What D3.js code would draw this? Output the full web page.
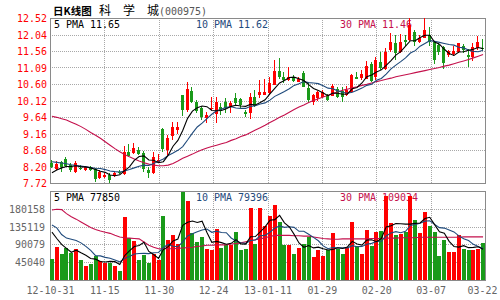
<!DOCTYPE html>
<html>
<head>
<meta charset="utf-8">
<script src="https://cdn.jsdelivr.net/npm/d3@7"></script>
<style>
	body { margin: 0; background: #fff; }
	svg text { font-family: "DejaVu Sans Mono", monospace; font-size: 11px; }
</style>
</head>
<body>
<div id="chart"></div>
<script>
// x axis labels, placed on the 9 vertical grid positions
var xLabels = ["12-10-31", "11-15", "11-30", "12-24", "13-01-11", "01-29", "02-20", "03-07", "03-22"];

var priceTicks = [7.72, 8.20, 8.68, 9.16, 9.64, 10.12, 10.60, 11.08, 11.56, 12.04, 12.52];
var priceTickLabels = ["7.72", "8.20", "8.68", "9.16", "9.64", "10.12", "10.60", "11.09", "11.56", "12.04", "12.52"];
var volTicks = [45040, 90079, 135119, 180158];
var volMax = 225198;

// daily candles
var openP = [8.30, 8.14, 8.33, 8.42, 8.23, 8.04, 8.17, 8.10, 8.18, 8.13,
	7.86, 7.90, 7.96, 7.93, 8.05, 7.98, 8.63, 8.58, 8.68, 8.60,
	8.10, 8.00, 8.33, 9.29, 8.68, 9.09, 9.26, 10.28, 9.84, 10.41,
	10.09, 9.89, 9.60, 9.89, 9.73, 9.94, 10.09, 9.94, 10.18, 10.15,
	9.80, 9.75, 10.23, 10.28, 10.28, 10.33, 10.57, 10.99, 10.79, 10.72,
	10.77, 10.67, 10.91, 10.49, 10.09, 10.18, 10.23, 10.28, 10.26, 10.45,
	10.40, 10.28, 10.36, 10.81, 10.78, 10.76, 11.18, 10.81, 11.23, 11.05,
	11.59, 11.78, 11.54, 11.88, 11.88, 12.10, 11.83, 11.95, 12.03, 11.83,
	11.73, 11.69, 11.44, 11.46, 11.54, 11.71, 11.44, 11.39, 11.64, 11.66];
var highP = [8.38, 8.36, 8.35, 8.49, 8.30, 8.36, 8.24, 8.22, 8.22, 8.15,
	8.10, 8.00, 8.00, 8.03, 8.10, 8.80, 8.85, 8.89, 8.78, 8.66,
	8.19, 8.63, 8.56, 9.31, 9.12, 9.50, 9.50, 10.28, 10.67, 10.50,
	10.14, 9.95, 9.80, 10.23, 10.23, 10.04, 10.18, 10.10, 10.35, 10.18,
	9.85, 10.33, 10.42, 10.72, 10.76, 10.79, 11.30, 11.35, 10.96, 11.10,
	10.85, 10.80, 10.98, 10.62, 10.30, 10.40, 10.42, 10.30, 10.60, 10.50,
	10.50, 10.55, 10.88, 10.95, 11.00, 11.28, 11.25, 11.40, 11.54, 11.64,
	12.07, 12.03, 12.06, 12.04, 12.52, 12.18, 12.02, 12.52, 12.27, 11.85,
	11.80, 11.72, 11.60, 11.70, 11.80, 11.75, 11.62, 11.80, 11.99, 11.90];
var lowP = [8.15, 8.11, 8.03, 8.20, 8.05, 8.01, 8.10, 8.08, 8.08, 7.76,
	7.85, 7.87, 7.73, 7.90, 7.97, 7.95, 8.49, 8.55, 8.53, 8.05,
	7.86, 7.98, 8.30, 8.63, 8.54, 8.98, 9.16, 9.67, 9.80, 10.04,
	9.75, 9.55, 9.46, 9.84, 9.46, 9.70, 9.77, 9.75, 10.00, 9.90,
	9.63, 9.58, 9.93, 10.18, 10.28, 10.28, 10.57, 10.75, 10.62, 10.68,
	10.65, 10.66, 10.50, 10.04, 9.99, 10.12, 10.20, 10.10, 10.24, 10.20,
	10.07, 10.25, 10.33, 10.74, 10.72, 10.74, 10.66, 10.72, 11.02, 11.00,
	11.53, 11.30, 11.50, 11.72, 11.85, 11.70, 11.78, 11.93, 11.72, 11.18,
	11.45, 11.05, 11.38, 11.42, 11.50, 11.50, 11.10, 11.26, 11.59, 11.57];
var closeP = [8.20, 8.28, 8.19, 8.22, 8.10, 8.29, 8.13, 8.19, 8.10, 7.83,
	8.05, 7.96, 7.81, 8.00, 8.00, 8.63, 8.51, 8.75, 8.56, 8.12,
	8.00, 8.49, 8.40, 8.70, 9.04, 9.34, 9.34, 9.84, 10.45, 10.09,
	9.81, 9.63, 9.70, 9.91, 10.07, 9.82, 9.89, 10.06, 10.06, 9.99,
	9.73, 10.23, 9.96, 10.38, 10.38, 10.62, 10.99, 10.79, 10.72, 10.81,
	10.70, 10.74, 10.52, 10.13, 10.28, 10.38, 10.38, 10.13, 10.55, 10.23,
	10.23, 10.42, 10.86, 10.76, 10.88, 11.13, 10.69, 11.30, 11.07, 11.52,
	11.81, 11.49, 11.83, 11.83, 12.32, 11.83, 11.95, 12.17, 11.83, 11.30,
	11.54, 11.20, 11.56, 11.56, 11.78, 11.60, 11.40, 11.69, 11.81, 11.63];

// price moving averages as drawn on the chart
var ma5 = [8.02, 8.10, 8.16, 8.20, 8.20, 8.22, 8.19, 8.19, 8.16, 8.11,
	8.06, 8.03, 7.95, 7.93, 7.96, 8.08, 8.19, 8.38, 8.49, 8.51,
	8.39, 8.38, 8.31, 8.34, 8.53, 8.79, 8.96, 9.25, 9.60, 9.81,
	9.91, 9.96, 9.94, 9.83, 9.82, 9.83, 9.88, 9.95, 9.98, 9.96,
	9.95, 10.01, 9.99, 10.06, 10.14, 10.31, 10.47, 10.63, 10.70, 10.79,
	10.80, 10.75, 10.70, 10.58, 10.47, 10.41, 10.34, 10.26, 10.34, 10.33,
	10.30, 10.31, 10.46, 10.50, 10.63, 10.81, 10.86, 10.95, 11.01, 11.14,
	11.28, 11.44, 11.54, 11.70, 11.86, 11.86, 11.95, 12.02, 12.02, 11.82,
	11.76, 11.61, 11.49, 11.43, 11.53, 11.54, 11.58, 11.61, 11.66, 11.63];
var ma10 = [8.34, 8.32, 8.30, 8.28, 8.25, 8.23, 8.21, 8.19, 8.17, 8.15,
	8.14, 8.11, 8.07, 8.05, 8.04, 8.07, 8.11, 8.16, 8.21, 8.24,
	8.23, 8.29, 8.35, 8.42, 8.52, 8.59, 8.67, 8.78, 8.97, 9.17,
	9.35, 9.46, 9.59, 9.72, 9.82, 9.87, 9.92, 9.94, 9.90, 9.89,
	9.89, 9.95, 9.97, 10.02, 10.05, 10.13, 10.24, 10.31, 10.38, 10.46,
	10.56, 10.61, 10.67, 10.64, 10.63, 10.61, 10.55, 10.48, 10.46, 10.40,
	10.36, 10.33, 10.36, 10.42, 10.48, 10.56, 10.59, 10.71, 10.76, 10.89,
	11.04, 11.15, 11.25, 11.36, 11.50, 11.57, 11.70, 11.78, 11.86, 11.84,
	11.81, 11.78, 11.75, 11.73, 11.67, 11.65, 11.59, 11.55, 11.54, 11.58];
var ma30 = [9.66, 9.63, 9.59, 9.55, 9.49, 9.43, 9.36, 9.28, 9.19, 9.11,
	9.02, 8.92, 8.82, 8.72, 8.63, 8.55, 8.48, 8.42, 8.36, 8.31,
	8.27, 8.24, 8.22, 8.22, 8.24, 8.29, 8.36, 8.44, 8.50, 8.56,
	8.63, 8.69, 8.74, 8.78, 8.82, 8.86, 8.90, 8.96, 9.01, 9.07,
	9.12, 9.19, 9.26, 9.33, 9.40, 9.48, 9.55, 9.63, 9.70, 9.78,
	9.86, 9.93, 9.99, 10.06, 10.12, 10.17, 10.22, 10.27, 10.32, 10.37,
	10.42, 10.45, 10.49, 10.52, 10.56, 10.59, 10.63, 10.67, 10.70, 10.74,
	10.77, 10.81, 10.84, 10.87, 10.90, 10.93, 10.96, 10.99, 11.02, 11.05,
	11.08, 11.12, 11.15, 11.19, 11.23, 11.27, 11.31, 11.36, 11.41, 11.46];

// daily volume
var volume = [52500, 83000, 66700, 80900, 68000, 77600, 50000, 35900, 40000, 60000,
	47500, 44000, 44000, 35900, 22500, 160000, 106000, 97600, 50000, 64000,
	43000, 66700, 50000, 161000, 101000, 115000, 92000, 222000, 200000, 118000,
	96000, 108000, 77600, 77000, 129000, 81000, 87600, 89000, 122600, 75000,
	79000, 181000, 92000, 183000, 137600, 161000, 190000, 146000, 87600, 87600,
	65000, 81000, 92000, 110000, 58000, 75000, 61000, 75000, 118000, 79000,
	65000, 81000, 146000, 85000, 65000, 127600, 85000, 121000, 125000, 213000,
	143000, 112600, 117000, 121000, 213000, 152600, 118000, 172600, 136000, 121000,
	61000, 100000, 71000, 71000, 112600, 79000, 75000, 75000, 79000, 93000];

// volume moving averages as drawn on the chart
var vma5 = [121000, 105000, 90000, 80000, 70200, 75400, 68800, 62600, 54400, 52800,
	46800, 45600, 47200, 46400, 39000, 61400, 73800, 84600, 87400, 95600,
	72200, 64400, 54800, 77000, 84400, 98800, 103800, 138200, 146000, 149400,
	145600, 148800, 120000, 95400, 97600, 94600, 90600, 92800, 102000, 91200,
	90800, 109400, 110000, 122000, 134600, 151000, 152800, 163600, 144600, 134600,
	115400, 93600, 82800, 87200, 81200, 83200, 79200, 75800, 77400, 81600,
	79600, 83600, 97800, 91200, 88400, 101000, 101800, 96800, 104800, 134400,
	137400, 143000, 142200, 141400, 141400, 143400, 144400, 155600, 158600, 140200,
	121800, 118200, 97800, 84800, 83200, 86800, 81800, 82600, 84200, 77850];
var vma10 = [139000, 132000, 115000, 106000, 103000, 100000, 94000, 85000, 75000, 61500,
	61100, 57200, 54900, 50400, 45900, 54100, 59700, 65900, 66900, 67300,
	66800, 69100, 69700, 82200, 90000, 85500, 84100, 96500, 111500, 116900,
	122200, 126300, 129100, 120700, 123500, 120100, 119700, 106400, 98700, 94400,
	92700, 100000, 101400, 112000, 112900, 120900, 131100, 136800, 133300, 134600,
	133200, 123200, 123200, 115900, 107900, 99300, 86400, 79300, 82300, 81400,
	81400, 81400, 86800, 84300, 85000, 90300, 92700, 97300, 98000, 111400,
	119200, 122400, 119500, 123100, 137900, 140400, 143700, 148900, 150000, 140800,
	132600, 131300, 126700, 121700, 111700, 104300, 100000, 90200, 84500, 79396];
var vma30 = [177000, 179000, 178000, 168000, 160000, 154000, 147000, 140000, 133000, 128000,
	124000, 121000, 118000, 113000, 109000, 107000, 106000, 105000, 104000, 96000,
	88000, 83000, 79000, 79000, 79000, 79000, 80000, 81000, 82000, 83000,
	85000, 86000, 88000, 88000, 89000, 89000, 89000, 91000, 92000, 94000,
	97000, 100000, 102000, 104000, 107000, 110000, 113000, 113000, 113000, 113000,
	112000, 112000, 111000, 111000, 109000, 107000, 105000, 104000, 103000, 103000,
	104000, 104000, 104000, 104000, 104000, 104000, 105000, 105000, 105000, 106000,
	106000, 106000, 107000, 107000, 107000, 107000, 108000, 108000, 108000, 108000,
	108000, 108000, 108000, 108000, 108000, 109000, 109000, 109000, 109000, 109034];

var maNames = ["5 PMA", "10 PMA", "30 PMA"];
var priceMaLast = ["11.65", "11.62", "11.46"];
var volMaLast = ["77850", "79396", "109034"];

var maColors = ["#000000", "#1f4a7c", "#c4104c"];
var upColor = "#ff0000";
var downColor = "#1a9a1a";

var left = 50, right = 485;
var pTop = 18, pBottom = 183;
var vTop = 191, vBottom = 280;

var svg = d3.select("#chart")
	.append("svg")
	.attr("width", 500)
	.attr("height", 300);

var n = closeP.length;
var x = d3.scaleBand()
	.domain(d3.range(n))
	.range([left, right])
	.paddingInner(0.2);
var grid = d3.scaleLinear().domain([0, xLabels.length - 1]).range([left, right]);
var y = d3.scaleLinear().domain([7.72, 12.52]).range([pBottom, pTop]);
var yv = d3.scaleLinear().domain([0, volMax]).range([vBottom, vTop]);

function center(i) {
	return x(i) + x.bandwidth() / 2;
}

// squeeze mono text to 6px per character
function squeeze(sel) {
	sel.each(function() {
		var t = d3.select(this);
		t.attr("textLength", t.text().length * 6).attr("lengthAdjust", "spacingAndGlyphs");
	});
}

// title
svg.append("text").attr("x", 53).attr("y", 15)
	.style("font-family", "'Noto Sans CJK SC'").style("font-size", "10.5px").style("font-weight", "bold")
	.text("日K线图");
svg.append("text").attr("x", 99).attr("y", 15)
	.style("font-family", "'Noto Sans CJK SC'").style("font-size", "12px")
	.text("科　学　城");
svg.append("text").attr("x", 159).attr("y", 15).attr("fill", "#555")
	.text("(000975)").call(squeeze);

// grid
var gridG = svg.append("g")
	.attr("stroke", "#a8a8a8")
	.attr("stroke-dasharray", "1,1")
	.attr("shape-rendering", "crispEdges");

gridG.selectAll(".hp")
	.data(priceTicks.slice(1, -1))
	.enter()
	.append("line")
	.attr("x1", left).attr("x2", right)
	.attr("y1", function(d) { return Math.round(y(d)) + 0.5; })
	.attr("y2", function(d) { return Math.round(y(d)) + 0.5; });

gridG.selectAll(".hv")
	.data(volTicks)
	.enter()
	.append("line")
	.attr("x1", left).attr("x2", right)
	.attr("y1", function(d) { return Math.round(yv(d)) + 0.5; })
	.attr("y2", function(d) { return Math.round(yv(d)) + 0.5; });

[[pTop, pBottom], [vTop, vBottom]].forEach(function(p) {
	gridG.selectAll(null)
		.data(d3.range(1, xLabels.length - 1))
		.enter()
		.append("line")
		.attr("x1", function(k) { return Math.round(grid(k)) + 0.5; })
		.attr("x2", function(k) { return Math.round(grid(k)) + 0.5; })
		.attr("y1", p[0]).attr("y2", p[1]);
});

// panel borders
[[pTop, pBottom], [vTop, vBottom]].forEach(function(p) {
	svg.append("rect")
		.attr("x", left + 0.5).attr("y", p[0] + 0.5)
		.attr("width", right - left).attr("height", p[1] - p[0])
		.attr("fill", "none")
		.attr("stroke", "#8a8a8a")
		.attr("shape-rendering", "crispEdges");
});

// axes
var yAxis = d3.axisLeft(y)
	.tickValues(priceTicks)
	.tickFormat(function(d, i) { return priceTickLabels[i]; })
	.tickSize(0)
	.tickPadding(3);
var gy = svg.append("g").attr("transform", "translate(" + left + ",0)").call(yAxis);
gy.select(".domain").remove();
gy.selectAll("text").attr("fill", "#ff0000").call(squeeze);

var vAxis = d3.axisLeft(yv)
	.tickValues(volTicks)
	.tickFormat(d3.format("d"))
	.tickSize(0)
	.tickPadding(5);
var gvy = svg.append("g").attr("transform", "translate(" + left + ",0)").call(vAxis);
gvy.select(".domain").remove();
gvy.selectAll("text").attr("fill", "#666").call(squeeze);

var xAxis = d3.axisBottom(grid)
	.tickValues(d3.range(xLabels.length))
	.tickFormat(function(k) { return xLabels[k]; })
	.tickSize(0)
	.tickPadding(6);
var gx = svg.append("g").attr("transform", "translate(0," + vBottom + ")").call(xAxis);
gx.select(".domain").remove();
gx.selectAll("text").attr("fill", "#666").call(squeeze);
// keep the last date inside the picture
gx.selectAll("text").filter(function(k) { return k === xLabels.length - 1; }).attr("dx", -3);

svg.selectAll(".tick text").attr("font-size", null).attr("font-family", null);

// legends (under the marks)
var legX = [54, 196, 340];
maNames.forEach(function(name, k) {
	svg.append("text").attr("x", legX[k]).attr("y", 28)
		.attr("fill", maColors[k])
		.text(name + " " + priceMaLast[k]).call(squeeze);
	svg.append("text").attr("x", legX[k]).attr("y", 201)
		.attr("fill", maColors[k])
		.text(name + " " + volMaLast[k]).call(squeeze);
});

var days = d3.range(n);

function col(i) {
	return closeP[i] >= openP[i] ? upColor : downColor;
}

// candles
var cg = svg.append("g").attr("shape-rendering", "crispEdges");
cg.selectAll(".wick")
	.data(days)
	.enter()
	.append("rect")
	.attr("x", function(i) { return Math.round(center(i) - 2) + 1; })
	.attr("width", 1)
	.attr("y", function(i) { return y(highP[i]); })
	.attr("height", function(i) { return Math.max(1, y(lowP[i]) - y(highP[i])); })
	.attr("fill", col);

cg.selectAll(".body")
	.data(days)
	.enter()
	.append("rect")
	.attr("x", function(i) { return Math.round(center(i) - 2); })
	.attr("width", 3)
	.attr("y", function(i) { return y(Math.max(openP[i], closeP[i])); })
	.attr("height", function(i) { return Math.max(1, Math.abs(y(openP[i]) - y(closeP[i]))); })
	.attr("fill", col);

// volume bars
cg.selectAll(".vol")
	.data(days)
	.enter()
	.append("rect")
	.attr("x", function(i) { return Math.round(center(i) - 2); })
	.attr("width", 4)
	.attr("y", function(i) { return yv(volume[i]); })
	.attr("height", function(i) { return vBottom - yv(volume[i]); })
	.attr("fill", col);

// moving average lines
var priceLine = function(arr) {
	return d3.line().x(function(d, i) { return center(i); }).y(function(d) { return y(d); })(arr);
};
var volLine = function(arr) {
	return d3.line().x(function(d, i) { return center(i); }).y(function(d) { return yv(d); })(arr);
};

[ma30, ma10, ma5].forEach(function(arr, k) {
	svg.append("path")
		.attr("d", priceLine(arr))
		.attr("fill", "none")
		.attr("stroke", maColors[2 - k])
		.attr("stroke-width", 1.1);
});
[vma30, vma10, vma5].forEach(function(arr, k) {
	svg.append("path")
		.attr("d", volLine(arr))
		.attr("fill", "none")
		.attr("stroke", maColors[2 - k])
		.attr("stroke-width", 1.1);
});
</script>
</body>
</html>
